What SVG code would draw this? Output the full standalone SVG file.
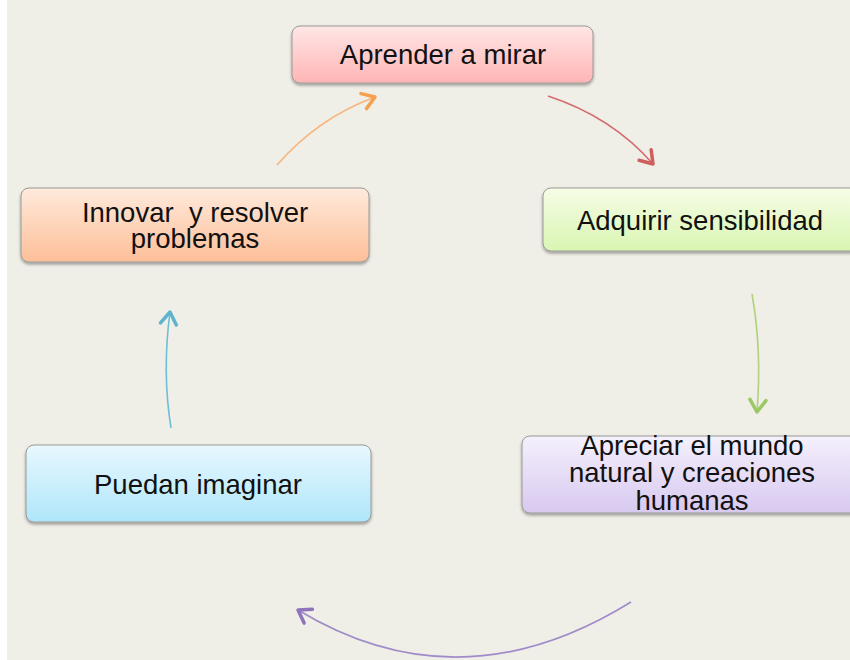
<svg xmlns="http://www.w3.org/2000/svg" width="850" height="660" viewBox="0 0 850 660">
<defs>
<style>
.node rect{stroke:#9a9a96;stroke-width:1;filter:url(#sh)}
.node text{font-family:"Liberation Sans",Arial,sans-serif;font-size:27.5px;fill:#111;text-anchor:middle;white-space:pre}
.conn path{fill:none;stroke-width:1.6}
</style>
<filter id="sh" x="-10%" y="-20%" width="120%" height="150%">
<feDropShadow dx="0" dy="2" stdDeviation="1.5" flood-color="#000" flood-opacity="0.35"/>
</filter>
<linearGradient id="gPink" x1="0" y1="0" x2="0" y2="1"><stop offset="0" stop-color="#ffe6e6"/><stop offset="1" stop-color="#ffb5b5"/></linearGradient>
<linearGradient id="gGreen" x1="0" y1="0" x2="0" y2="1"><stop offset="0" stop-color="#f6fde6"/><stop offset="1" stop-color="#d9f5b2"/></linearGradient>
<linearGradient id="gPurple" x1="0" y1="0" x2="0" y2="1"><stop offset="0" stop-color="#f4f0fc"/><stop offset="1" stop-color="#d8c9f0"/></linearGradient>
<linearGradient id="gBlue" x1="0" y1="0" x2="0" y2="1"><stop offset="0" stop-color="#e8f8fe"/><stop offset="1" stop-color="#afe6fa"/></linearGradient>
<linearGradient id="gOrange" x1="0" y1="0" x2="0" y2="1"><stop offset="0" stop-color="#ffeadc"/><stop offset="1" stop-color="#fdbf98"/></linearGradient>
<marker id="mOrange" markerUnits="userSpaceOnUse" markerWidth="30" markerHeight="30" refX="0" refY="0" viewBox="-15 -15 30 30" orient="auto" overflow="visible"><path d="M-12,-8 L0,0 L-12,8" fill="none" stroke="#f5a14f" stroke-width="3.5" stroke-linecap="round" stroke-linejoin="round"/></marker>
<marker id="mRed" markerUnits="userSpaceOnUse" markerWidth="30" markerHeight="30" refX="0" refY="0" viewBox="-15 -15 30 30" orient="auto" overflow="visible"><path d="M-12,-8 L0,0 L-12,8" fill="none" stroke="#cf5f5f" stroke-width="3.5" stroke-linecap="round" stroke-linejoin="round"/></marker>
<marker id="mGreen" markerUnits="userSpaceOnUse" markerWidth="30" markerHeight="30" refX="0" refY="0" viewBox="-15 -15 30 30" orient="auto" overflow="visible"><path d="M-12,-8 L0,0 L-12,8" fill="none" stroke="#9cc765" stroke-width="3.5" stroke-linecap="round" stroke-linejoin="round"/></marker>
<marker id="mPurple" markerUnits="userSpaceOnUse" markerWidth="30" markerHeight="30" refX="0" refY="0" viewBox="-15 -15 30 30" orient="auto" overflow="visible"><path d="M-12,-8 L0,0 L-12,8" fill="none" stroke="#8f74bd" stroke-width="3.5" stroke-linecap="round" stroke-linejoin="round"/></marker>
<marker id="mBlue" markerUnits="userSpaceOnUse" markerWidth="30" markerHeight="30" refX="0" refY="0" viewBox="-15 -15 30 30" orient="auto" overflow="visible"><path d="M-12,-8 L0,0 L-12,8" fill="none" stroke="#5db4cc" stroke-width="3.5" stroke-linecap="round" stroke-linejoin="round"/></marker>
</defs>
<rect x="0" y="0" width="850" height="660" fill="#efeee7"/>
<rect x="0" y="0" width="7" height="660" fill="#ffffff"/>

<g id="connectors" class="conn">
<path d="M277,165 Q318,118 375,97" stroke="#f8b57c" marker-end="url(#mOrange)"/>
<path d="M548,96 Q612,117 653,164" stroke="#d46c6c" marker-end="url(#mRed)"/>
<path d="M752,294 Q762,350 757,412" stroke="#aed27e" marker-end="url(#mGreen)"/>
<path d="M631,602 Q460,708 298,610" stroke="#a08bc9" marker-end="url(#mPurple)"/>
<path d="M171,428 Q162,372 170,312" stroke="#6fbfd5" marker-end="url(#mBlue)"/>
</g>

<g id="node-aprender" class="node">
<rect x="292" y="26" width="301" height="57" rx="8" fill="url(#gPink)"/>
<text x="443" y="64">Aprender a mirar</text>
</g>
<g id="node-adquirir" class="node">
<rect x="543" y="188" width="320" height="63" rx="8" fill="url(#gGreen)"/>
<text x="700" y="230">Adquirir sensibilidad</text>
</g>
<g id="node-apreciar" class="node">
<rect x="522" y="436" width="340" height="77" rx="8" fill="url(#gPurple)"/>
<text x="692" y="455">Apreciar el mundo</text>
<text x="692" y="482">natural y creaciones</text>
<text x="692" y="510">humanas</text>
</g>
<g id="node-puedan" class="node">
<rect x="26" y="445" width="345" height="77" rx="8" fill="url(#gBlue)"/>
<text x="198" y="494">Puedan imaginar</text>
</g>
<g id="node-innovar" class="node">
<rect x="21" y="188" width="348" height="74" rx="8" fill="url(#gOrange)"/>
<text x="195" y="222">Innovar  y resolver</text>
<text x="195" y="248">problemas</text>
</g>
</svg>
